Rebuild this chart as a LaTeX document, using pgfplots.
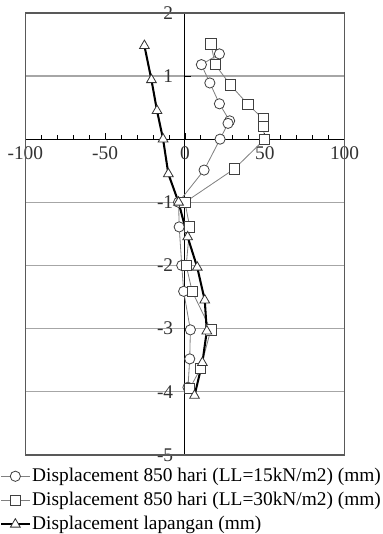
\documentclass[border=0pt]{standalone}
\usepackage{fontspec}
\setmainfont{Liberation Serif}
\usepackage{pgfplots}
\pgfplotsset{compat=1.18}
\begin{document}
\fontsize{19}{22}\selectfont
\begin{tikzpicture}
\begin{axis}[
 scale only axis, width=312bp, height=432bp,
 xmin=-100, xmax=100, ymin=-5, ymax=2,
 axis lines=middle,
 axis line style={black, line width=1pt, -},
 xtick={-100,-50,0,50,100}, minor x tick num=4,
 ytick={-5,-4,-3,-2,-1,1,2}, minor y tick num=4,
 hide obscured x ticks=false,
 tick align=inside,
 major tick length=6bp, minor tick length=4bp,
 tick style={black, line width=0.8pt},
 ymajorgrids, grid style={black!35, line width=1pt},
 /pgf/number format/assume math mode=true,
 ticklabel style={font=\fontsize{19}{22}\selectfont, text=black!80},
 xticklabel style={yshift=-1bp},
 yticklabel style={xshift=-5bp},
 clip=false,
 legend style={at={(-0.08,-0.026)}, anchor=north west, draw=none, fill=none,
   font=\fontsize{19}{22}\selectfont, row sep=4.5bp, inner sep=0pt,
   nodes={inner sep=1.5bp}},
 legend cell align=left,
 legend image code/.code={\draw[mark repeat=2,mark phase=2] plot coordinates {(0bp,0bp) (14bp,0bp) (28bp,0bp)};},
]
\addplot[black!50, line width=0.8pt, mark=*, mark size=5bp,
  mark options={solid, draw=black!75, fill=white, line width=0.8pt}] coordinates {
(21.6,1.35) (10.3,1.18) (15.6,0.89) (21.6,0.56) (28,0.29) (27,0.25) (22,0)
(12,-0.49) (-4,-1.0) (-3.6,-1.39) (-2,-2.0) (-0.8,-2.41) (3.4,-3.02) (3,-3.48) (1.9,-3.93)};
\addlegendentry{Displacement 850 hari (LL=15kN/m2) (mm)}
\addplot[black!50, line width=0.8pt, mark=square*, mark size=5bp,
  mark options={solid, draw=black!75, fill=white, line width=0.8pt}] coordinates {
(16.2,1.51) (19,1.18) (28.4,0.86) (39.5,0.55) (49,0.32) (49,0.2) (50,0)
(31,-0.47) (0,-1.0) (3,-1.39) (0.8,-2.0) (4.5,-2.41) (16.2,-3.02) (9.8,-3.63) (3,-3.95)};
\addlegendentry{Displacement 850 hari (LL=30kN/m2) (mm)}
\addplot[black, line width=2pt, mark=triangle*, mark size=5.5bp,
  mark options={solid, draw=black!80, fill=white, line width=0.8pt}] coordinates {
(-25.4,1.48) (-21,0.94) (-17.5,0.45) (-13.7,0) (-10.4,-0.55) (-4,-1.0) (1.7,-1.55)
(7.7,-2.03) (12.4,-2.55) (13.7,-3.04) (10.9,-3.54) (6,-4.06)};
\addlegendentry{Displacement lapangan (mm)}
\draw[black!65, line width=1.6pt] (rel axis cs:0,0) rectangle (rel axis cs:1,1);
\end{axis}
\end{tikzpicture}
\end{document}
